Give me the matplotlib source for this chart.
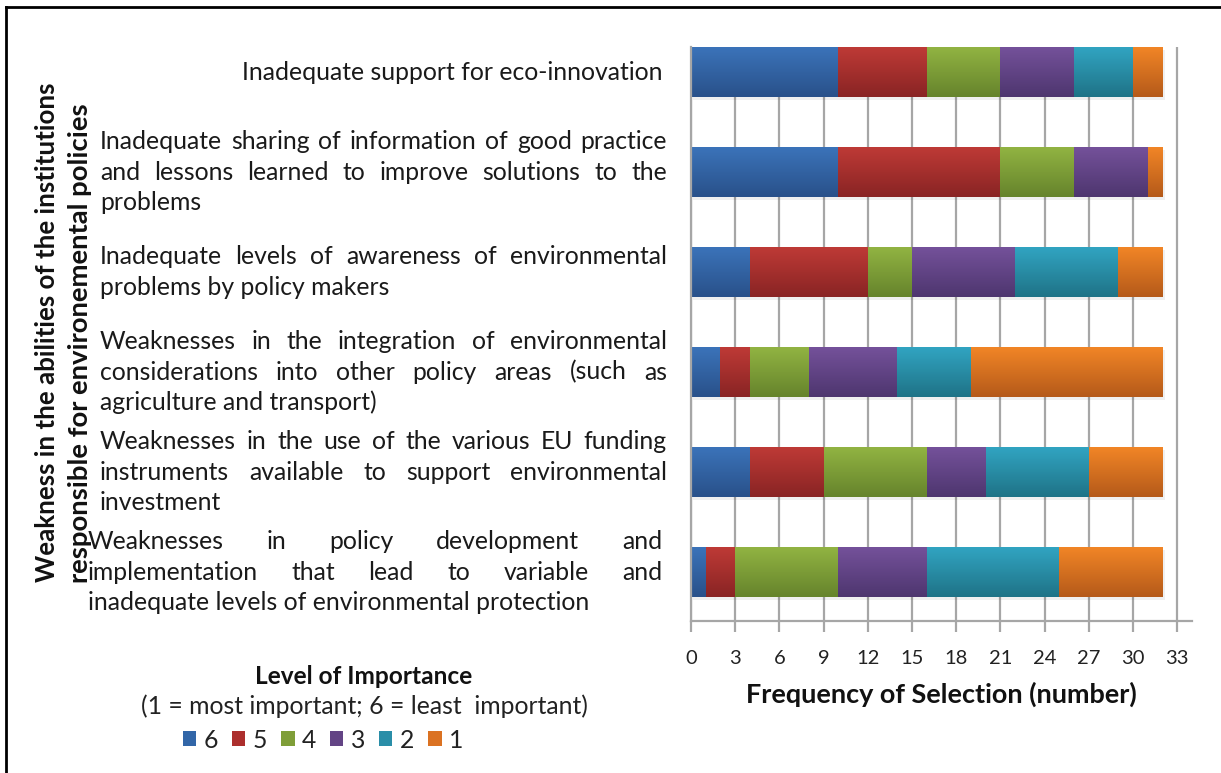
import numpy as np
import matplotlib
matplotlib.use("Agg")
import matplotlib.pyplot as plt
from matplotlib.colors import LinearSegmentedColormap
from matplotlib.patches import Patch
from matplotlib.lines import Line2D
from matplotlib.transforms import blended_transform_factory

plt.rcParams['font.family'] = ['Lato', 'DejaVu Sans']

# categories, bottom to top (each one split in lines as in the original)
category_lines = [
    ["Weaknesses in policy development and",
     "implementation that lead to variable and",
     "inadequate levels of environmental protection"],
    ["Weaknesses in the use of the various EU funding",
     "instruments available to support environmental",
     "investment"],
    ["Weaknesses in the integration of environmental",
     "considerations into other policy areas (such as",
     "agriculture and transport)"],
    ["Inadequate levels of awareness of environmental",
     "problems by policy makers"],
    ["Inadequate sharing of information of good practice",
     "and lessons learned to improve solutions to the",
     "problems"],
    ["Inadequate support for eco-innovation"],
]

levels = ["6", "5", "4", "3", "2", "1"]
# frequency of selection per level of importance, bottom category first
freq_6 = [1, 4, 2, 4, 10, 10]
freq_5 = [2, 5, 2, 8, 11, 6]
freq_4 = [7, 7, 4, 3, 5, 5]
freq_3 = [6, 4, 6, 7, 5, 5]
freq_2 = [9, 7, 5, 7, 0, 4]
freq_1 = [7, 5, 13, 3, 1, 2]
series = [freq_6, freq_5, freq_4, freq_3, freq_2, freq_1]

x_ticks = list(range(0, 34, 3))

# (top, bottom) shades of the gradient fill
shades = [("#3b73b9", "#29518a"),
          ("#be3a36", "#892424"),
          ("#91b342", "#66842c"),
          ("#74519a", "#4e366f"),
          ("#31a4c1", "#1f7387"),
          ("#f18526", "#b55a1a")]
solid = ["#3266a8", "#ac2f2d", "#7f9e38", "#634485", "#2a8ea8", "#db7222"]

W, H = 1221, 773
fig = plt.figure(figsize=(W / 100, H / 100), dpi=100)
ax = fig.add_axes([691 / W, 1 - 621 / H, 501 / W, 574 / H])

ypos = np.arange(len(category_lines))
left = np.zeros(len(ypos))
grad = np.linspace(0, 1, 64).reshape(-1, 1)
for vals, (c_top, c_bot), c in zip(series, shades, solid):
    vals = np.array(vals, dtype=float)
    # soft shadow
    ax.barh(ypos - 0.03, vals, left=left + 0.15, height=0.5,
            color="#000000", alpha=0.06, edgecolor="none", zorder=1.5)
    bars = ax.barh(ypos, vals, left=left, height=0.5, color=c,
                   edgecolor="none", zorder=2)
    cmap = LinearSegmentedColormap.from_list("g", [c_top, c_bot])
    for b in bars:
        if b.get_width() <= 0:
            continue
        x0, y0 = b.get_x(), b.get_y()
        im = ax.imshow(grad, cmap=cmap, aspect="auto", zorder=2.5,
                       extent=(x0, x0 + b.get_width(), y0, y0 + b.get_height()))
        im.set_clip_path(b)
    left += vals

ax.set_xlim(0, 34)
ax.set_ylim(-0.49, 5.25)
ax.set_xticks(x_ticks)
ax.set_xticklabels([str(t) for t in x_ticks], fontsize=14.5, color="#222222")
ax.set_yticks([])
ax.xaxis.grid(True, color="#a6a6a6", lw=1.6)
ax.set_axisbelow(True)
for s in ["top", "right"]:
    ax.spines[s].set_visible(False)
for s in ["left", "bottom"]:
    ax.spines[s].set_color("#a6a6a6")
    ax.spines[s].set_linewidth(1.6)
ax.tick_params(axis="x", length=8, width=1.6, color="#a6a6a6", pad=13)

fig.canvas.draw()
renderer = fig.canvas.get_renderer()


def fit(t, target, vertical=False):
    # scale the font so the text spans the same pixels as the original
    bb = t.get_window_extent(renderer)
    t.set_fontsize(t.get_fontsize() * target / (bb.height if vertical else bb.width))


xl = fig.text(941 / W, 1 - 694 / H, "Frequency of Selection (number)",
              ha="center", va="center", fontsize=16, fontweight="bold",
              color="#111111")
fit(xl, 393)

# category labels, justified like the original text boxes
trans = blended_transform_factory(fig.transFigure, ax.transData)
probe = fig.text(0, 0, category_lines[0][2], fontsize=16)
fit(probe, 502)
label_size = probe.get_fontsize()
probe.remove()
label_kw = dict(fontsize=label_size, color="#1a1a1a", va="center")
line_step = 0.305
for i, lines in enumerate(category_lines):
    x_left, x_right = (88, 662) if i == 0 else (100, 667)
    n = len(lines)
    for k, line in enumerate(lines):
        y = ypos[i] + ((n - 1) / 2 - k) * line_step
        if n == 1:
            fig.text(662 / W, y, line, ha="right", transform=trans, **label_kw)
            continue
        if k == n - 1:
            fig.text(x_left / W, y, line, ha="left", transform=trans, **label_kw)
            continue
        words = line.split()
        texts = [fig.text(0, y, w, ha="left", transform=trans, **label_kw)
                 for w in words]
        widths = [t.get_window_extent(renderer).width for t in texts]
        gap = (x_right - x_left - sum(widths)) / (len(words) - 1)
        x = x_left
        for t, wd in zip(texts, widths):
            t.set_x(x / W)
            x += wd + gap

# axis title on the left (two rotated lines)
yl1 = fig.text(47 / W, 1 - 332 / H, "Weakness in the abilities of the institutions",
               rotation=90, ha="center", va="center", fontsize=16,
               fontweight="bold", color="#111111")
yl2 = fig.text(80 / W, 1 - 343 / H, "responsible for environemental policies",
               rotation=90, ha="center", va="center", fontsize=16,
               fontweight="bold", color="#111111")
fit(yl1, 500, vertical=True)
fit(yl2, 483, vertical=True)

# legend block
lt = fig.text(364 / W, 1 - 677 / H, "Level of Importance", ha="center",
              va="center", fontsize=16, fontweight="bold", color="#111111")
fit(lt, 217)
ls = fig.text(364 / W, 1 - 706 / H, "(1 = most important; 6 = least  important)",
              ha="center", va="center", fontsize=16, color="#222222")
fit(ls, 449)
handles = [Patch(facecolor=c, edgecolor="none") for c in solid]
fig.legend(handles, levels, loc="center", bbox_to_anchor=(323 / W, 1 - 740 / H),
           ncol=6, frameon=False, fontsize=ls.get_fontsize(), handlelength=0.55,
           handleheight=0.55, handletextpad=0.3, columnspacing=0.55,
           borderpad=0, labelcolor="#222222")

# frame of the original figure (left and top edges visible)
fig.add_artist(Line2D([6 / W, 6 / W], [0, 1 - 7 / H], color="black", lw=2,
                      transform=fig.transFigure))
fig.add_artist(Line2D([6 / W, 1], [1 - 7 / H, 1 - 7 / H], color="black", lw=2,
                      transform=fig.transFigure))

fig.savefig("out.png", dpi=100)
